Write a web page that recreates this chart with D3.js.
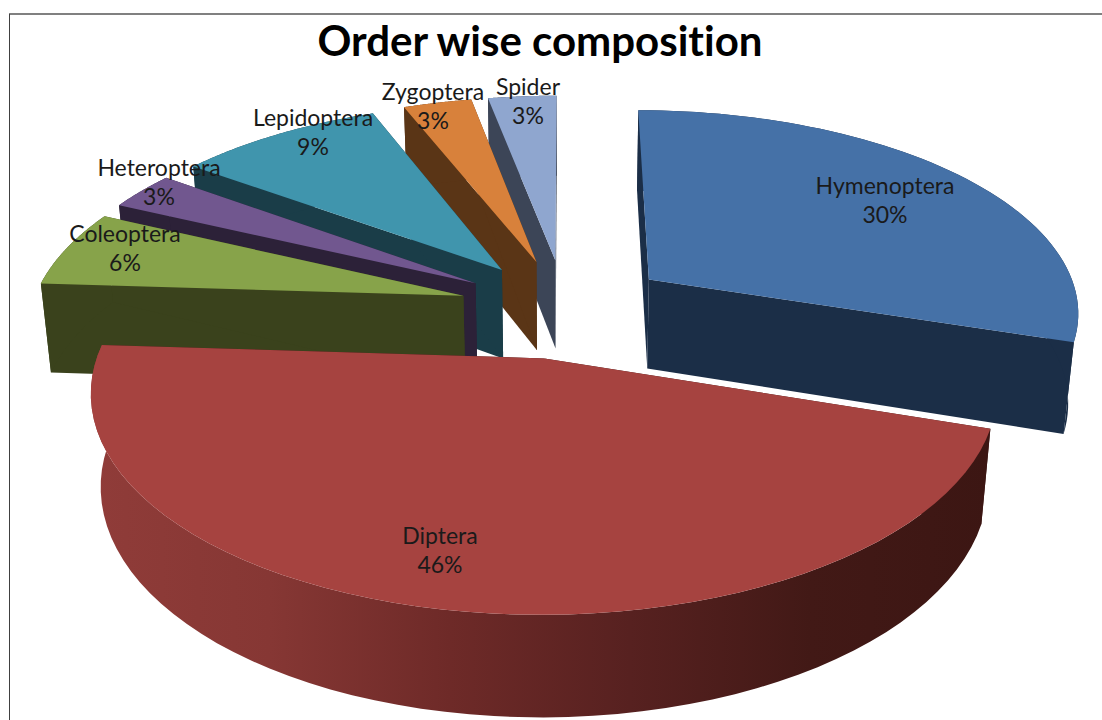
<!DOCTYPE html>
<html><head><meta charset="utf-8">
<script src="https://cdn.jsdelivr.net/npm/d3@7/dist/d3.min.js"></script>
<style>html,body{margin:0;padding:0;background:#fff;overflow:hidden}text{font-variant-ligatures:none}</style>
</head><body>
<script>
const categories = ["Hymenoptera","Diptera","Coleoptera","Heteroptera","Lepidoptera","Zygoptera","Spider"];
const values = [30,46,6,3,9,3,3];
const topColors = ["#4571a7","#a64340","#87a34a","#71578f","#4095ad","#d8813b","#8fa6cf"];
const wallColors = ["#1b2e47","#3f1815","#3a421c","#2c2138","#1a3d48","#5a3516","#3c4557"];
const labelPos = [[885,186],[440,536],[125,234],[159,168],[313,118],[433,92],[528,87]];
const W=1102,H=720;
// projection parameters of the tilted 3D pie
const cx=565, cy=308, A=432, B=202, kx=0.147, ky=0.1476, h=92, m=0.02, explode=0.245;
const svg=d3.select("body").append("svg").attr("width",W).attr("height",H).style("display","block");
const defs=svg.append("defs");
const grad=defs.append("linearGradient").attr("id","dipSide").attr("gradientUnits","userSpaceOnUse")
  .attr("x1",90).attr("x2",990).attr("y1",0).attr("y2",0);
[[0,"#903c39"],[0.2,"#863734"],[0.4,"#6e2a28"],[0.6,"#572120"],[0.8,"#421916"],[1,"#3c1613"]]
  .forEach(s=>grad.append("stop").attr("offset",s[0]).attr("stop-color",s[1]));

const pie=d3.pie().sort(null).value(d=>d);
const arcs=pie(values);
const project=(X,Y,Z)=>{
  const d=Z<0?m:0;
  return [cx+A*X/(1-kx*Y+d), cy+(B*Y+(Z<0?h:0))/(1-ky*Y+d)];
};
const line=d3.line();
function slice(i){
  const a=arcs[i], mid=(a.startAngle+a.endAngle)/2;
  const ox=explode*Math.sin(mid), oy=-explode*Math.cos(mid);
  const rim=(t,Z)=>project(ox+Math.sin(t),oy-Math.cos(t),Z);
  const apex=Z=>project(ox,oy,Z);
  const angles=d3.range(0,61).map(k=>a.startAngle+(a.endAngle-a.startAngle)*k/60);
  return {a,rim,apex,angles};
}
const order=[6,5,4,3,2,0,1];
order.forEach(i=>{
  const s=slice(i), g=svg.append("g");
  const wall=wallColors[i];
  g.append("path").attr("d",line([s.apex(0),s.rim(s.a.startAngle,0),s.rim(s.a.startAngle,-1),s.apex(-1)])+"Z").attr("fill",wall);
  g.append("path").attr("d",line([s.apex(0),s.rim(s.a.endAngle,0),s.rim(s.a.endAngle,-1),s.apex(-1)])+"Z").attr("fill",wall);
  const outer=s.angles.map(t=>s.rim(t,0)).concat(s.angles.slice().reverse().map(t=>s.rim(t,-1)));
  g.append("path").attr("d",line(outer)+"Z").attr("fill",i===1?"url(#dipSide)":wall);
  const top=[s.apex(0)].concat(s.angles.map(t=>s.rim(t,0)));
  g.append("path").attr("d",line(top)+"Z").attr("fill",topColors[i]);
});

// chart frame
svg.append("line").attr("x1",9).attr("x2",W).attr("y1",14).attr("y2",14).attr("stroke","#808080").attr("stroke-width",2);
svg.append("line").attr("x1",9.5).attr("x2",9.5).attr("y1",14).attr("y2",H).attr("stroke","#404040").attr("stroke-width",1);

svg.append("text").attr("x",540).attr("y",56).attr("text-anchor","middle")
  .attr("font-family","Lato, sans-serif").attr("font-weight",700).attr("font-size",42).attr("fill","#000")
  .text("Order wise composition");
const total=d3.sum(values);
const fmt=d3.format(".0%");
categories.forEach((c,i)=>{
  const t=svg.append("text").attr("text-anchor","middle").attr("font-family","Lato, sans-serif")
    .attr("font-size",23).attr("fill","#1a1a1a");
  t.append("tspan").attr("x",labelPos[i][0]).attr("y",labelPos[i][1]+8).text(c);
  t.append("tspan").attr("x",labelPos[i][0]).attr("y",labelPos[i][1]+37).text(fmt(values[i]/total));
});
</script>
</body></html>
